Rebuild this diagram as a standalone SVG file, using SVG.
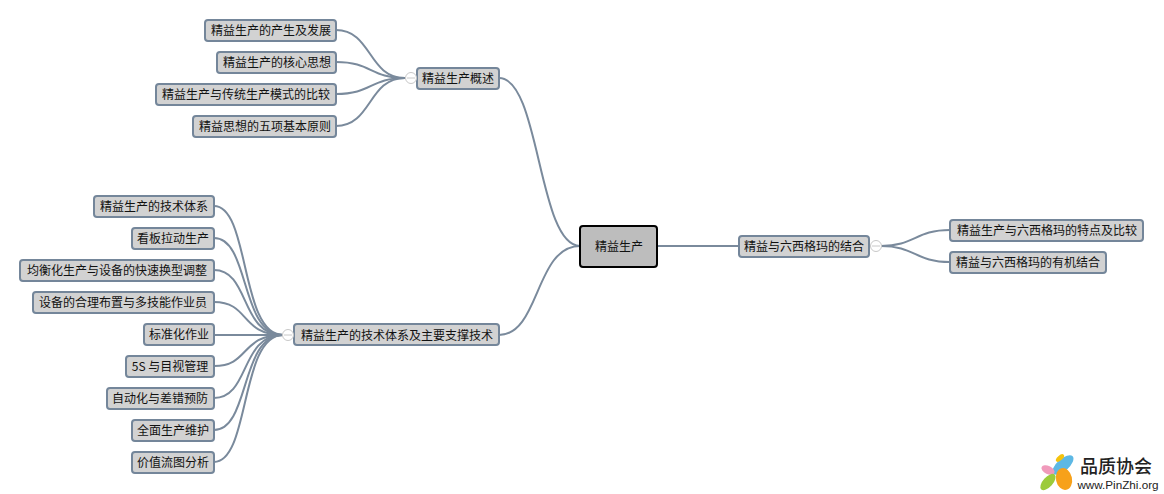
<svg xmlns="http://www.w3.org/2000/svg" width="1164" height="494" viewBox="0 0 1164 494">
<style>
text{font-family:"Noto Sans CJK SC","Liberation Sans",sans-serif;font-size:12px;fill:#111;text-anchor:middle;dominant-baseline:central}
.n rect{fill:#d2d2d2;stroke:#74869a;stroke-width:2}
.c path{fill:none;stroke:#7a8a9c;stroke-width:2}
.t{fill:#fff;stroke:#c8c8c8;stroke-width:1}
.m{stroke:#c8c8c8;stroke-width:1}
</style>
<rect width="1164" height="494" fill="#fff"/>
<g id="connectors" class="c">
<path d="M658 246H739"/>
<path d="M499 78C540 78 538 246 580 246"/>
<path d="M499 335C540 335 535 246 580 246"/>
<path d="M405 78C368 78 372 30 336 30"/>
<path d="M405 78C370 78 372 62 336 62"/>
<path d="M405 78C370 78 372 94 336 94"/>
<path d="M405 78C368 78 372 126 336 126"/>
<path d="M283 335C240 335 250 206 214 206"/>
<path d="M283 335C240 335 250 238 214 238"/>
<path d="M283 335C240 335 250 270 214 270"/>
<path d="M283 335C240 335 250 302 214 302"/>
<path d="M283 335H214"/>
<path d="M283 335C240 335 250 366 214 366"/>
<path d="M283 335C240 335 250 398 214 398"/>
<path d="M283 335C240 335 250 430 214 430"/>
<path d="M283 335C240 335 250 462 214 462"/>
<path d="M881 246C915 246 915 230 950 230"/>
<path d="M881 246C915 246 915 262 950 262"/>
</g>
<g id="root"><rect x="580" y="226" width="77" height="41" rx="3" fill="#bdbdbd" stroke="#000" stroke-width="2"/><text x="619" y="245">精益生产</text></g>
<g id="b1" class="n"><rect x="417" y="68" width="82" height="21" rx="3"/><text x="458" y="77">精益生产概述</text></g>
<g id="b1t"><circle class="t" cx="411" cy="78" r="5.5"/><path class="m" d="M407 78H415"/></g>
<g id="b2" class="n"><rect x="294" y="324" width="205" height="21" rx="3"/><text x="397" y="334">精益生产的技术体系及主要支撑技术</text></g>
<g id="b2t"><circle class="t" cx="288" cy="335" r="5.5"/><path class="m" d="M284 335H292"/></g>
<g id="b3" class="n"><rect x="739" y="236" width="130" height="21" rx="3"/><text x="804" y="245">精益与六西格玛的结合</text></g>
<g id="b3t"><circle class="t" cx="876" cy="246" r="5.5"/><path class="m" d="M872 246H880"/></g>
<g id="a1" class="n"><rect x="205" y="20" width="131" height="21" rx="3"/><text x="271" y="29">精益生产的产生及发展</text></g>
<g id="a2" class="n"><rect x="217" y="52" width="119" height="21" rx="3"/><text x="277" y="61">精益生产的核心思想</text></g>
<g id="a3" class="n"><rect x="156" y="84" width="180" height="21" rx="3"/><text x="246" y="93">精益生产与传统生产模式的比较</text></g>
<g id="a4" class="n"><rect x="193" y="116" width="143" height="21" rx="3"/><text x="265" y="125">精益思想的五项基本原则</text></g>
<g id="c1" class="n"><rect x="94" y="196" width="120" height="21" rx="3"/><text x="154" y="205">精益生产的技术体系</text></g>
<g id="c2" class="n"><rect x="132" y="228" width="82" height="21" rx="3"/><text x="173" y="237">看板拉动生产</text></g>
<g id="c3" class="n"><rect x="20" y="260" width="194" height="21" rx="3"/><text x="117" y="269">均衡化生产与设备的快速换型调整</text></g>
<g id="c4" class="n"><rect x="33" y="292" width="181" height="21" rx="3"/><text x="123" y="301">设备的合理布置与多技能作业员</text></g>
<g id="c5" class="n"><rect x="144" y="324" width="70" height="21" rx="3"/><text x="179" y="333">标准化作业</text></g>
<g id="c6" class="n"><rect x="126" y="356" width="88" height="21" rx="3"/><text x="170" y="365">5S 与目视管理</text></g>
<g id="c7" class="n"><rect x="107" y="388" width="107" height="21" rx="3"/><text x="160" y="397">自动化与差错预防</text></g>
<g id="c8" class="n"><rect x="132" y="420" width="82" height="21" rx="3"/><text x="173" y="429">全面生产维护</text></g>
<g id="c9" class="n"><rect x="132" y="452" width="82" height="21" rx="3"/><text x="173" y="461">价值流图分析</text></g>
<g id="d1" class="n"><rect x="950" y="220" width="193" height="21" rx="3"/><text x="1047" y="229">精益生产与六西格玛的特点及比较</text></g>
<g id="d2" class="n"><rect x="950" y="252" width="156" height="21" rx="3"/><text x="1028" y="261">精益与六西格玛的有机结合</text></g>
<g id="logo">
<ellipse cx="1063" cy="465" rx="13" ry="6" fill="#5db8e4" transform="rotate(-42 1063 465)"/>
<ellipse cx="1048" cy="470" rx="7" ry="4" fill="#f09abb" transform="rotate(25 1048 470)"/>
<ellipse cx="1048" cy="482" rx="10" ry="5" fill="#9ccb3b" transform="rotate(-48 1048 482)"/>
<ellipse cx="1064" cy="479" rx="8" ry="11" fill="#f7a11a" transform="rotate(-12 1064 479)"/>
<ellipse cx="1060" cy="458" rx="5" ry="2.5" fill="#f4c20d" transform="rotate(-42 1060 458)"/>
<text x="1116" y="465" style="font-size:18px;font-weight:500;fill:#222">品质协会</text>
<text x="1118" y="484" style="font-size:11.7px;font-family:'Liberation Sans',sans-serif;fill:#222">www.PinZhi.org</text>
</g>
</svg>
